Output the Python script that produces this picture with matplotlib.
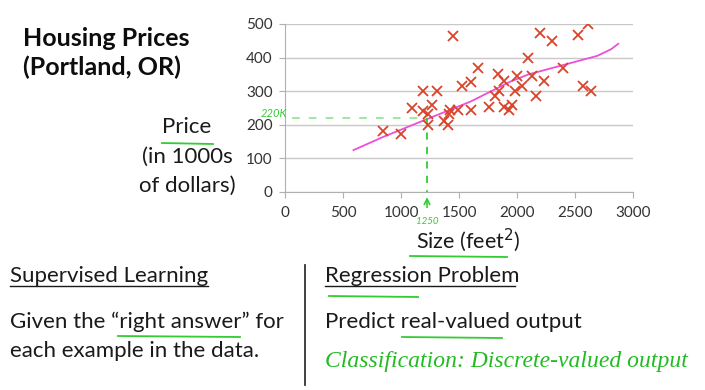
import matplotlib
matplotlib.use("Agg")
from matplotlib import pyplot as plt
import numpy as np

# house sizes (feet^2) and prices (1000s of dollars)
size = [841, 996, 1091, 1191, 1191, 1234, 1263, 1229, 1312, 1369, 1407, 1421,
        1413, 1450, 1487, 1527, 1599, 1599, 1659, 1760, 1837, 1809, 1846, 1886,
        1886, 1929, 1958, 1981, 2001, 2038, 2096, 2130, 2159, 2196, 2234, 2297,
        2397, 2526, 2564, 2613, 2633]
price = [181, 171, 249, 299, 241, 231, 258, 199, 299, 211, 199, 244,
         232, 464, 244, 315, 328, 244, 368, 251, 350, 286, 301, 330,
         253, 244, 258, 299, 346, 315, 400, 345, 286, 474, 330, 449,
         368, 467, 315, 499, 300]

# hand drawn fit curve
fit_x = [590, 850, 1220, 1600, 1940, 2100, 2400, 2690, 2810, 2870]
fit_y = [124, 164, 216, 269, 328, 350, 378, 405, 425, 441]

x_ticks = [0, 500, 1000, 1500, 2000, 2500, 3000]
y_ticks = [0, 100, 200, 300, 400, 500]
guess_size, guess_price = 1223, 219

plt.rcParams['font.family'] = ['Lato', 'DejaVu Sans']
fig = plt.figure(figsize=(7.05, 3.9), dpi=100)
fig.patch.set_facecolor('white')

ax = fig.add_axes([0.4043, 0.5085, 0.494, 0.43])
ax.plot(size, price, 'x', color='#d8442a', markersize=7, markeredgewidth=1.3, zorder=3)
ax.plot(fit_x, fit_y, color='#ee4fd8', lw=1.3, zorder=2)
ax.set_xlim(0, 3000)
ax.set_ylim(0, 500)
ax.set_xticks(x_ticks)
ax.set_yticks(y_ticks)
ax.yaxis.grid(True, color='#c8c8c8', lw=1)
ax.set_axisbelow(True)
for s in ['top', 'right']:
    ax.spines[s].set_visible(False)
for s in ['left', 'bottom']:
    ax.spines[s].set_color('#b0b0b0')
ax.tick_params(axis='both', colors='#b0b0b0', labelcolor='#333333', labelsize=11, length=4)
ax.tick_params(axis='y', pad=5)
ax.tick_params(axis='x', pad=6)

# green pen marks on the chart
g = '#33cc33'
ax.plot([60, guess_size], [guess_price, guess_price], ls=(0, (5, 6)), color=g, lw=1.1, alpha=0.6, clip_on=False)
ax.plot([guess_size, guess_size], [guess_price, 0], ls=(0, (4, 4)), color=g, lw=1.3, clip_on=False)
ax.annotate('', xy=(guess_size, -8), xytext=(guess_size, -55),
            arrowprops=dict(arrowstyle='->', color=g, lw=1.2), annotation_clip=False)
ax.text(guess_size, -88, '1250', color=g, fontsize=7, ha='center', va='center', style='italic')
ax.text(-95, 232, '220K', color=g, fontsize=8, ha='center', va='center', style='italic')

# slide text in pixel coordinates
ov = fig.add_axes([0, 0, 1, 1], facecolor='none')
ov.set_xlim(0, 705)
ov.set_ylim(390, 0)
ov.axis('off')

dark = '#1a1a1a'
ov.text(23, 46, 'Housing Prices', fontsize=18, fontweight='bold', va='baseline', color='#0d0d0d')
ov.text(23, 75, '(Portland, OR)', fontsize=18, fontweight='bold', va='baseline', color='#0d0d0d')
ov.text(187, 133, 'Price', fontsize=16, ha='center', va='baseline', color=dark)
ov.text(187, 163, '(in 1000s', fontsize=16, ha='center', va='baseline', color=dark)
ov.text(187, 192, 'of dollars)', fontsize=16, ha='center', va='baseline', color=dark)
ov.text(468, 248, 'Size (feet$^2$)', fontsize=15.5, ha='center', va='baseline', color=dark)

ov.text(10, 282, 'Supervised Learning', fontsize=16, va='baseline', color=dark)
ov.plot([10, 208], [286, 286], color=dark, lw=1)
ov.text(10, 328, 'Given the \u201cright answer\u201d for', fontsize=16, va='baseline', color=dark)
ov.text(10, 357, 'each example in the data.', fontsize=16, va='baseline', color=dark)

ov.plot([305, 305], [265, 385], color='#333333', lw=1.3)

ov.text(325, 282, 'Regression Problem', fontsize=16, va='baseline', color=dark)
ov.plot([325, 515], [286, 286], color=dark, lw=1)
ov.text(325, 328, 'Predict real-valued output', fontsize=16, va='baseline', color=dark)
ov.text(325, 367, 'Classification: Discrete-valued output', fontsize=17, va='baseline',
        color='#22bb22', style='italic', family=['Liberation Serif', 'DejaVu Serif'])

# green underlines
for x0, x1, y in [(162, 213, 143), (410, 507, 256), (118, 240, 336),
                  (329, 418, 296), (402, 502, 337)]:
    ov.plot([x0, x1], [y, y + 1], color=g, lw=1.3)

fig.savefig('out.png', dpi=100)
